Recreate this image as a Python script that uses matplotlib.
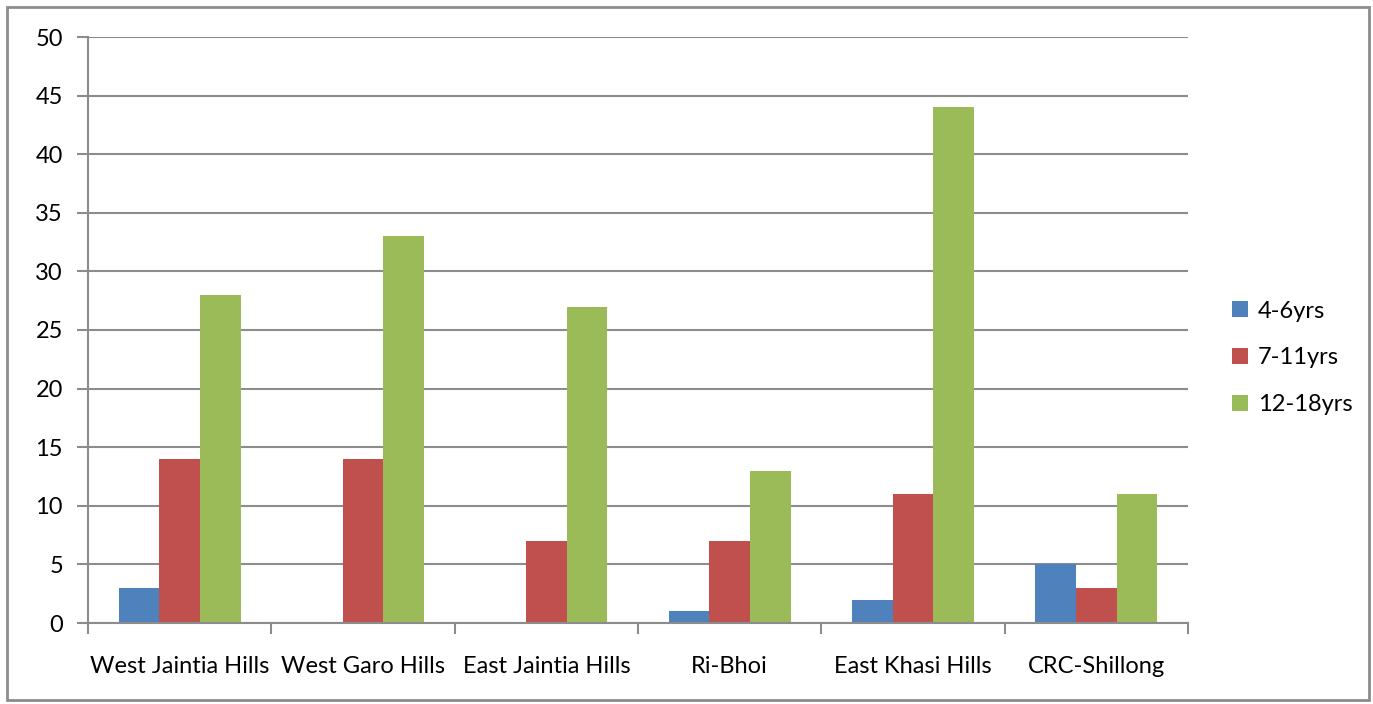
import matplotlib
matplotlib.use("Agg")
import matplotlib.pyplot as plt
import numpy as np
from matplotlib.patches import Rectangle

categories = ["West Jaintia Hills", "West Garo Hills", "East Jaintia Hills", "Ri-Bhoi", "East Khasi Hills", "CRC-Shillong"]
series_names = ["4-6yrs", "7-11yrs", "12-18yrs"]
s_4_6 = [3, 0, 0, 1, 2, 5]
s_7_11 = [14, 14, 7, 7, 11, 3]
s_12_18 = [28, 33, 27, 13, 44, 11]
colors = ["#4F81BD", "#C0504D", "#9BBB59"]

plt.rcParams['font.family'] = ['Lato', 'DejaVu Sans']
W, H = 1373, 704
FS = 17
fig = plt.figure(figsize=(W/100, H/100), dpi=100)
ax = fig.add_axes([88/W, 1-623/H, (1188-88)/W, (623-37)/H])

x = np.arange(len(categories))
bw = 1/4.5
for i, (vals, c, name) in enumerate(zip([s_4_6, s_7_11, s_12_18], colors, series_names)):
    ax.bar(x + (i-1)*bw, vals, width=bw, color=c, label=name, zorder=3)

ax.set_xlim(-0.5, len(categories)-0.5)
ax.set_ylim(0, 50)
ax.set_yticks(range(0, 51, 5))
ax.yaxis.grid(True, color="#8C8C8C", linewidth=1.5, zorder=0)
ax.set_axisbelow(True)
for s in ["top", "right"]:
    ax.spines[s].set_visible(False)
for s in ["left", "bottom"]:
    ax.spines[s].set_color("#8C8C8C")
    ax.spines[s].set_linewidth(1.5)
    ax.spines[s].set_zorder(4)

ax.set_xticks(np.arange(-0.5, len(categories)), minor=False)
ax.set_xticklabels([])
ax.set_xticks(x, minor=True)
ax.set_xticklabels(categories, minor=True, fontsize=FS)
ax.tick_params(axis="x", which="minor", length=0, pad=24)
ax.tick_params(axis="x", which="major", length=8, width=1.5, color="#8C8C8C")
ax.tick_params(axis="y", length=8, width=1.5, color="#8C8C8C", labelsize=FS, pad=10)

leg = ax.legend(loc="center left", bbox_to_anchor=(1211/W, 1-358/H), bbox_transform=fig.transFigure,
                frameon=False, fontsize=FS, handlelength=0.65, handleheight=0.65,
                labelspacing=1.1, handletextpad=0.45)

fig.patches.append(Rectangle((7/W, 4/H), (1369-7)/W, (697-4)/H, transform=fig.transFigure,
                             fill=False, edgecolor="#8C8C8C", linewidth=2))
fig.savefig("out.png", dpi=100)
